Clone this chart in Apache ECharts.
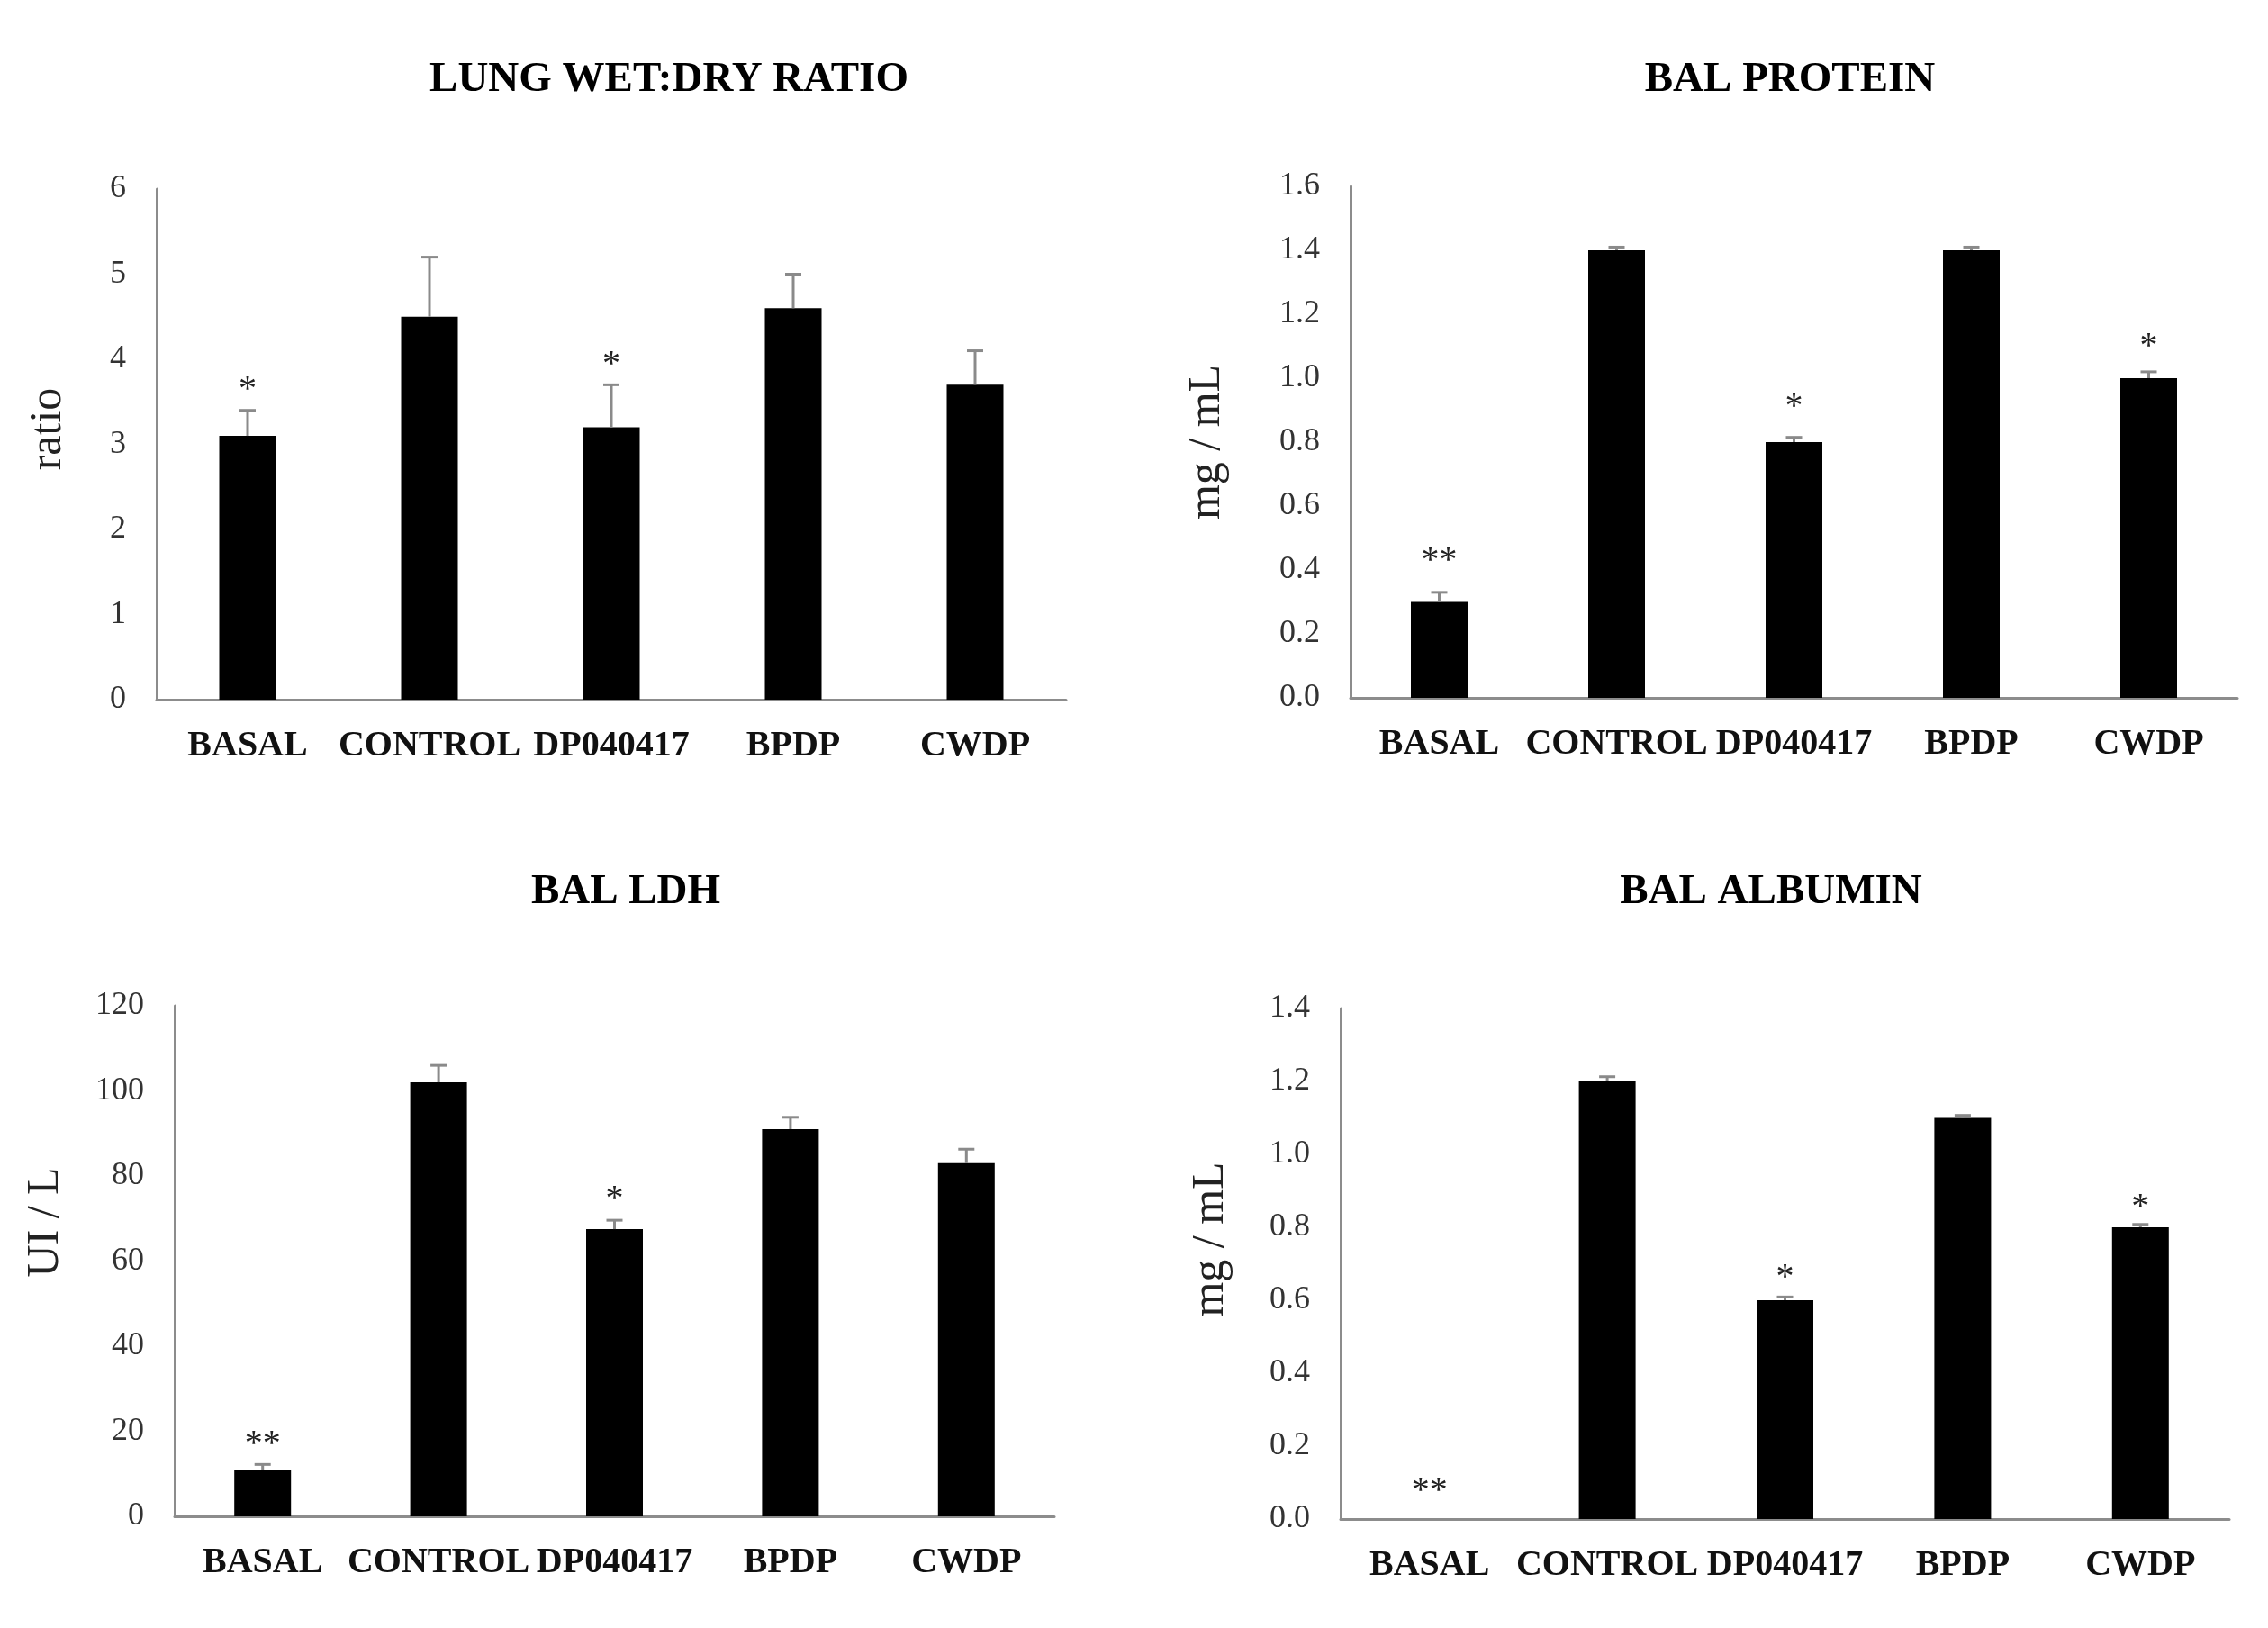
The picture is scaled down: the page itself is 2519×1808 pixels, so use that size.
<!DOCTYPE html>
<html>
<head>
<meta charset="utf-8">
<script src="https://cdn.jsdelivr.net/npm/echarts@6/dist/echarts.min.js"></script>
<style>
html,body{margin:0;padding:0;background:#ffffff;}
#chart{width:2519px;height:1808px;}
</style>
</head>
<body>
<div id="chart"></div>
<script>
// ---- data ----
const categories = ['BASAL', 'CONTROL', 'DP040417', 'BPDP', 'CWDP'];

const titles = ['LUNG WET:DRY RATIO', 'BAL PROTEIN', 'BAL LDH', 'BAL ALBUMIN'];
const yNames = ['ratio', 'mg / mL', 'UI / L', 'mg / mL'];

const wetDryValues = [3.1, 4.5, 3.2, 4.6, 3.7];
const wetDryErrors = [0.3, 0.7, 0.5, 0.4, 0.4];
const wetDrySig    = ['*', '', '*', '', ''];
const wetDrySigY   = [3.72, null, 4.02, null, null];

const proteinValues = [0.30, 1.40, 0.80, 1.40, 1.00];
const proteinErrors = [0.03, 0.01, 0.015, 0.01, 0.02];
const proteinSig    = ['**', '', '*', '', '*'];
const proteinSigY   = [0.45, null, 0.93, null, 1.12];

const ldhValues = [11, 102, 67.5, 91, 83];
const ldhErrors = [1.2, 4.0, 2.1, 2.8, 3.3];
const ldhSig    = ['**', '', '*', '', ''];
const ldhSigY   = [18.6, null, 76, null, null];

const albuminValues = [0, 1.20, 0.60, 1.10, 0.80];
const albuminErrors = [0, 0.013, 0.009, 0.007, 0.008];
const albuminSig    = ['**', '', '*', '', '*'];
const albuminSigY   = [0.096, null, 0.68, null, 0.874];

const yTicks = [
  {min: 0, max: 6,   interval: 1,   decimals: 0},
  {min: 0, max: 1.6, interval: 0.2, decimals: 1},
  {min: 0, max: 120, interval: 20,  decimals: 0},
  {min: 0, max: 1.4, interval: 0.2, decimals: 1}
];

// ---- layout / style ----
const SERIF = '"Liberation Serif", "Times New Roman", Times, serif';
const grids = [
  {left: 174,  top: 210,  width: 1010, height: 567},
  {left: 1500, top: 207,  width: 985,  height: 568},
  {left: 194,  top: 1117, width: 977,  height: 567},
  {left: 1489, top: 1120, width: 987,  height: 567}
];
const titlePos = [
  {x: 738,  y: 60},
  {x: 1983, y: 60},
  {x: 690,  y: 962},
  {x: 1962, y: 962}
];
const nameGaps = [95, 134, 118, 119];
const nameShiftUp = [17, 0, 43, 27];

const panels = [
  {v: wetDryValues,  e: wetDryErrors,  s: wetDrySig,  sy: wetDrySigY},
  {v: proteinValues, e: proteinErrors, s: proteinSig, sy: proteinSigY},
  {v: ldhValues,     e: ldhErrors,     s: ldhSig,     sy: ldhSigY},
  {v: albuminValues, e: albuminErrors, s: albuminSig, sy: albuminSigY}
];

const option = {
  backgroundColor: '#ffffff',
  animation: false,
  title: titles.map((t, i) => ({
    text: t,
    left: titlePos[i].x,
    top: titlePos[i].y,
    textAlign: 'center',
    textStyle: {fontFamily: SERIF, fontWeight: 'bold', fontSize: 47, color: '#000'}
  })),
  grid: grids.map(g => Object.assign({containLabel: false}, g)),
  xAxis: grids.map((g, i) => ({
    type: 'category',
    gridIndex: i,
    data: categories,
    axisLine: {show: true, lineStyle: {color: '#8c8c8c', width: 3}},
    axisTick: {show: false},
    axisLabel: {interval: 0, margin: 32, fontFamily: SERIF, fontWeight: 'bold', fontSize: 40, color: '#111'},
    splitLine: {show: false}
  })),
  yAxis: yTicks.map((t, i) => ({
    type: 'value',
    gridIndex: i,
    min: t.min, max: t.max, interval: t.interval,
    name: yNames[i],
    nameLocation: 'middle',
    nameGap: nameGaps[i],
    nameRotate: 90,
    nameTextStyle: {fontFamily: SERIF, fontSize: 50, color: '#222', padding: [0, 0, 0, nameShiftUp[i] * 2]},
    axisLine: {show: true, lineStyle: {color: '#8c8c8c', width: 3}},
    axisTick: {show: false},
    splitLine: {show: false},
    axisLabel: {
      margin: 34, fontFamily: SERIF, fontSize: 36, color: '#333',
      formatter: v => v.toFixed(t.decimals)
    }
  })),
  series: []
};

panels.forEach((p, i) => {
  option.series.push({
    type: 'bar',
    xAxisIndex: i, yAxisIndex: i,
    data: p.v,
    barWidth: 63,
    itemStyle: {color: '#000', borderWidth: 0},
    silent: true
  });
  option.series.push({
    type: 'custom',
    xAxisIndex: i, yAxisIndex: i,
    data: p.v.map((v, k) => [k, v, v + p.e[k]]),
    encode: {x: 0, y: [1, 2]},
    renderItem: function (params, api) {
      const lo = api.value(1), hi = api.value(2);
      if (!(hi > lo)) return null;
      const a = api.coord([api.value(0), lo]);
      const b = api.coord([api.value(0), hi]);
      const style = {stroke: '#8a8a8a', lineWidth: 3};
      return {
        type: 'group',
        children: [
          {type: 'line', shape: {x1: a[0], y1: a[1], x2: b[0], y2: b[1]}, style: style},
          {type: 'line', shape: {x1: b[0] - 9, y1: b[1], x2: b[0] + 9, y2: b[1]}, style: style}
        ]
      };
    },
    silent: true,
    z: 3
  });
  const sigData = [];
  const sigText = [];
  p.s.forEach((txt, k) => { if (txt) { sigData.push([k, p.sy[k]]); sigText.push(txt); } });
  option.series.push({
    type: 'custom',
    xAxisIndex: i, yAxisIndex: i,
    data: sigData,
    encode: {x: 0, y: 1},
    clip: false,
    renderItem: function (params, api) {
      const c = api.coord([api.value(0), api.value(1)]);
      return {
        type: 'text',
        x: c[0], y: c[1] + 8,
        style: {
          text: sigText[params.dataIndex],
          fontFamily: SERIF, fontSize: 40, fill: '#222',
          textAlign: 'center', textVerticalAlign: 'middle'
        }
      };
    },
    silent: true,
    z: 4
  });
});

const chart = echarts.init(document.getElementById('chart'), null, {renderer: 'canvas'});
chart.setOption(option);
</script>
</body>
</html>
